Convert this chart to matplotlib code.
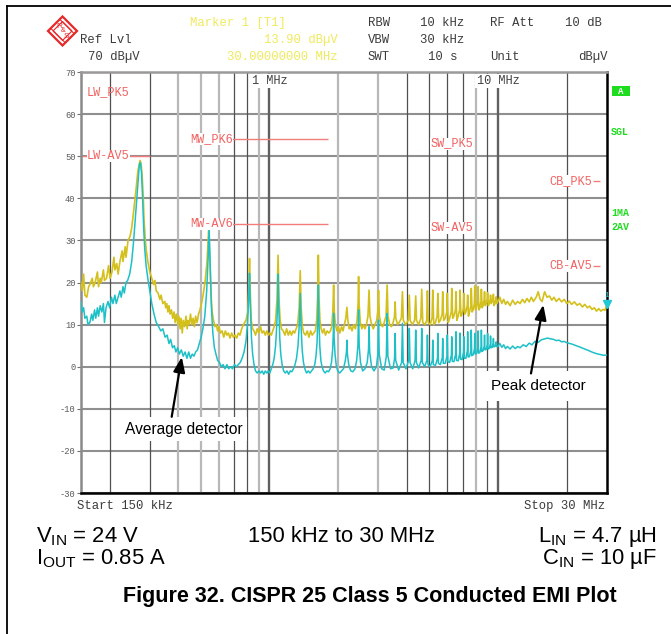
import matplotlib
matplotlib.use("Agg")
import matplotlib.pyplot as plt
from matplotlib import transforms
from matplotlib.patches import Polygon, Rectangle
from matplotlib.lines import Line2D
from matplotlib.ticker import NullLocator

plt.rcParams['font.family'] = ['Liberation Sans', 'DejaVu Sans']
plt.rcParams['mathtext.fontset'] = 'custom'
plt.rcParams['mathtext.rm'] = 'Liberation Sans'
plt.rcParams['mathtext.it'] = 'Liberation Sans:italic'
plt.rcParams['mathtext.bf'] = 'Liberation Sans:bold'
MONO = ['Liberation Mono', 'DejaVu Sans Mono']

# ---------------- data (frequency in MHz, level in dBuV) ----------------
# peak detector trace (yellow)
pk_trace = [
    (0.150, 20.0), (0.152, 18), (0.154, 22), (0.156, 17), (0.159, 16.5), (0.162, 19), (0.164, 19.5),
    (0.168, 21), (0.170, 19), (0.173, 20), (0.177, 22.5), (0.179, 19), (0.182, 21), (0.184, 20),
    (0.188, 23), (0.190, 20.5), (0.194, 21), (0.198, 24), (0.201, 21), (0.205, 22.5), (0.209, 26),
    (0.211, 23), (0.215, 24.5), (0.218, 22), (0.222, 25), (0.227, 27.5), (0.229, 25), (0.234, 28.5),
    (0.236, 26), (0.241, 30), (0.246, 31), (0.250, 33), (0.255, 37), (0.261, 42), (0.266, 46.5),
    (0.272, 49), (0.275, 48), (0.278, 45), (0.281, 40), (0.283, 35), (0.286, 31), (0.289, 28),
    (0.294, 25), (0.300, 22.5), (0.306, 21), (0.312, 19.5), (0.316, 20.5), (0.320, 18), (0.326, 17.5),
    (0.332, 16), (0.336, 17), (0.342, 15), (0.349, 15.5), (0.352, 14), (0.356, 15), (0.360, 13),
    (0.364, 14.5), (0.368, 12.5), (0.373, 13.5), (0.378, 11.5), (0.383, 13), (0.387, 10.5),
    (0.392, 12.5), (0.398, 10), (0.402, 12), (0.407, 9), (0.411, 11.5), (0.416, 8), (0.420, 11),
    (0.426, 9.5), (0.432, 12), (0.437, 9), (0.441, 11), (0.446, 10), (0.452, 12.5), (0.458, 10),
    (0.464, 11.5), (0.470, 9.5), (0.476, 12), (0.483, 10.5), (0.490, 12.5), (0.497, 13.5),
    (0.505, 15), (0.513, 17), (0.523, 20), (0.534, 25), (0.543, 33), (0.550, 25), (0.556, 17),
    (0.562, 13), (0.570, 11), (0.578, 9.5), (0.586, 10), (0.594, 8.5), (0.602, 9.5), (0.611, 8),
    (0.621, 8.5), (0.632, 7), (0.642, 8.5), (0.652, 7.5), (0.662, 8), (0.673, 6.8), (0.684, 8),
    (0.696, 7), (0.708, 7.5), (0.720, 6.8), (0.732, 8), (0.744, 7.5), (0.757, 9), (0.770, 10),
    (0.790, 11), (0.805, 13), (0.812, 18), (0.819, 25.7), (0.826, 17), (0.834, 11), (0.845, 9),
    (0.857, 8.5), (0.870, 7.5), (0.885, 9), (0.900, 8), (0.915, 9.5), (0.930, 8), (0.945, 8.5),
    (0.960, 7.5), (0.975, 8.5), (0.990, 7.5), (1.005, 8), (1.020, 7.5), (1.035, 8.5), (1.050, 9.5),
    (1.065, 11), (1.080, 16), (1.092, 26.5), (1.102, 16), (1.115, 11), (1.130, 9), (1.150, 8.5),
    (1.170, 7.5), (1.190, 9), (1.210, 7.5), (1.230, 8.5), (1.250, 7.5), (1.270, 8.5), (1.290, 8),
    (1.310, 9), (1.330, 10), (1.350, 14), (1.365, 22.8), (1.378, 14), (1.395, 9.5), (1.415, 8),
    (1.440, 7.5), (1.465, 8.5), (1.490, 7), (1.515, 8.5), (1.540, 7.5), (1.565, 8), (1.590, 8.5),
    (1.610, 11), (1.625, 16), (1.638, 26.5), (1.650, 16), (1.665, 11), (1.685, 9), (1.710, 8),
    (1.735, 9), (1.760, 7.5), (1.790, 8.5), (1.820, 8), (1.850, 8.5), (1.875, 9.5), (1.895, 13),
    (1.911, 19.4), (1.925, 13), (1.945, 10), (1.975, 8.5), (2.005, 9.5), (2.035, 8), (2.070, 9.5),
    (2.100, 8.5), (2.130, 10), (2.160, 11.5), (2.184, 14.1), (2.205, 11), (2.235, 9), (2.270, 9.5),
    (2.300, 8.5), (2.340, 10), (2.380, 9), (2.420, 11), (2.445, 15), (2.457, 21.4), (2.470, 15),
    (2.500, 10.5), (2.540, 9), (2.580, 10), (2.620, 9), (2.660, 10), (2.700, 12), (2.730, 18.2),
    (2.755, 12), (2.800, 10), (2.850, 9), (2.900, 10), (2.950, 11), (2.980, 13), (3.003, 18.1),
    (3.030, 12), (3.080, 10), (3.130, 9.5), (3.180, 10.5), (3.240, 12), (3.276, 19.4), (3.305, 12),
    (3.360, 10), (3.420, 9.5), (3.480, 10.5), (3.530, 12), (3.549, 15.4), (3.575, 11.5), (3.640, 10),
    (3.700, 10.5), (3.780, 11.5), (3.822, 17.8), (3.855, 11), (3.950, 10), (4.050, 11), (4.095, 17.0),
    (4.130, 11), (4.220, 10), (4.320, 11), (4.368, 16.8), (4.405, 11), (4.500, 10), (4.600, 11.5),
    (4.641, 18.4), (4.690, 10.5), (4.800, 10), (4.880, 11), (4.914, 18.0), (4.960, 10.5), (5.050, 10),
    (5.150, 11.5), (5.187, 18.2), (5.240, 10), (5.330, 10.5), (5.420, 12), (5.460, 17.4), (5.510, 10.5),
    (5.600, 11), (5.700, 12.5), (5.733, 17.8), (5.790, 11), (5.880, 11.5), (5.975, 13), (6.006, 17.4),
    (6.060, 10.5), (6.150, 11.5), (6.250, 13), (6.279, 18.6), (6.340, 11.5), (6.420, 12), (6.520, 13.5),
    (6.552, 17.8), (6.610, 11), (6.700, 12), (6.800, 13.5), (6.825, 18.2), (6.890, 12), (6.970, 12.5),
    (7.070, 14), (7.098, 17.4), (7.160, 12.5), (7.240, 13), (7.340, 14.5), (7.371, 17.0), (7.430, 12),
    (7.510, 13), (7.610, 14.5), (7.644, 18.6), (7.710, 13), (7.790, 13.5), (7.890, 15), (7.917, 19.2),
    (7.980, 13.5), (8.060, 14), (8.160, 15.5), (8.190, 19.0), (8.260, 13.5), (8.340, 14), (8.430, 15.5),
    (8.463, 18.4), (8.530, 14), (8.610, 14.5), (8.705, 16), (8.736, 17.8), (8.800, 14.5), (8.880, 15),
    (8.980, 16), (9.009, 17.6), (9.080, 14.5), (9.160, 15), (9.250, 16), (9.282, 17.0), (9.350, 15),
    (9.440, 15.5), (9.525, 16.5), (9.555, 17.2), (9.620, 14.5), (9.710, 15), (9.800, 16), (9.828, 16.6),
    (9.900, 15), (10.0, 15.5), (10.2, 16.5), (10.4, 15), (10.6, 16), (10.8, 14.8), (11.0, 15.5),
    (11.3, 14.5), (11.6, 15.8), (11.9, 14.8), (12.2, 15.5), (12.5, 15), (12.8, 16), (13.1, 15.2),
    (13.4, 16.2), (13.7, 15.4), (14.0, 16.5), (14.3, 15.5), (14.7, 16.5), (15.0, 17.8), (15.3, 16),
    (15.6, 15.5), (16.0, 17.8), (16.4, 16.5), (16.8, 16.8), (17.2, 15.8), (17.6, 16.5), (18.0, 15.5),
    (18.5, 16.2), (19.0, 15.4), (19.5, 16), (20.0, 15), (20.5, 15.6), (21.0, 14.8), (21.6, 15.4),
    (22.2, 14.6), (22.8, 15), (23.4, 14.2), (24.0, 14.8), (24.6, 14), (25.2, 14.4), (25.8, 13.6),
    (26.4, 14), (27.0, 13.2), (27.6, 13.8), (28.2, 13.2), (28.8, 13.6), (29.4, 13.4), (30.0, 15.0),
]

# average detector trace (cyan)
av_trace = [
    (0.150, 15.4), (0.152, 13), (0.154, 14), (0.156, 11.5), (0.159, 12), (0.161, 10), (0.164, 10.5),
    (0.167, 12.5), (0.169, 11), (0.172, 13.5), (0.174, 11.5), (0.177, 14), (0.179, 12), (0.182, 14.5),
    (0.185, 13), (0.188, 15), (0.190, 10.5), (0.193, 14), (0.197, 15.5), (0.200, 14), (0.204, 16.5),
    (0.207, 15), (0.211, 17), (0.214, 15), (0.218, 16.5), (0.222, 18), (0.225, 16.5), (0.229, 19),
    (0.232, 17.5), (0.236, 20), (0.240, 20.5), (0.245, 22), (0.250, 25), (0.255, 30), (0.260, 36),
    (0.265, 42), (0.270, 48), (0.273, 48.5), (0.276, 46), (0.279, 40), (0.282, 33), (0.285, 28),
    (0.289, 24), (0.294, 21), (0.300, 18), (0.306, 15), (0.313, 12.5), (0.320, 10.5), (0.328, 9.5),
    (0.335, 8.5), (0.342, 9), (0.350, 7), (0.357, 7.5), (0.364, 5.5), (0.370, 6.5), (0.377, 4.5),
    (0.384, 5), (0.390, 3.5), (0.397, 4.5), (0.404, 3), (0.412, 4), (0.420, 2.5), (0.428, 3.5),
    (0.436, 2), (0.444, 3.5), (0.452, 2), (0.460, 3), (0.468, 2.5), (0.476, 3.5), (0.485, 4),
    (0.494, 5.5), (0.503, 7), (0.512, 9), (0.522, 12), (0.532, 18), (0.540, 26), (0.545, 33),
    (0.551, 24), (0.558, 14), (0.566, 8), (0.575, 4.5), (0.584, 3), (0.594, 1.5), (0.605, 1),
    (0.616, 0), (0.628, 0.5), (0.640, -0.5), (0.652, 0.5), (0.664, -0.5), (0.676, 0), (0.690, -0.5),
    (0.704, 0.5), (0.718, 0), (0.732, 0.5), (0.746, 1), (0.760, 2), (0.775, 3.5), (0.790, 6),
    (0.802, 10), (0.812, 16), (0.819, 22.2), (0.826, 14), (0.835, 7), (0.845, 3), (0.857, 0.5),
    (0.870, -1), (0.885, -1.5), (0.900, -1), (0.915, -1.5), (0.930, -1), (0.945, -1.8), (0.960, -1),
    (0.975, -1.5), (0.990, -1), (1.005, -1.5), (1.020, -0.5), (1.035, 0.5), (1.050, 2), (1.065, 5),
    (1.078, 10), (1.088, 16), (1.092, 22), (1.100, 14), (1.110, 7), (1.122, 3), (1.137, 0.5),
    (1.155, -1), (1.175, -1.5), (1.195, -1), (1.215, -1.8), (1.235, -1), (1.255, -1.2), (1.275, -0.5),
    (1.295, 0.5), (1.315, 2), (1.335, 5), (1.352, 10), (1.365, 17.4), (1.378, 9), (1.392, 4),
    (1.410, 1), (1.430, -0.5), (1.455, -1.5), (1.480, -1), (1.505, -1.5), (1.530, -1), (1.555, -0.5),
    (1.580, 0.5), (1.600, 2.5), (1.618, 6), (1.630, 12), (1.638, 19.4), (1.648, 11), (1.662, 5),
    (1.680, 1.5), (1.700, 0), (1.725, -1), (1.755, -1.5), (1.785, -1), (1.815, -1.2), (1.845, -0.5),
    (1.870, 1), (1.892, 4), (1.905, 8), (1.911, 12.7), (1.920, 7), (1.938, 3), (1.960, 0.5),
    (1.990, -1), (2.030, -1.5), (2.070, -1), (2.110, -0.5), (2.150, 1.5), (2.175, 3.5), (2.184, 6.3),
    (2.195, 3), (2.225, 0.5), (2.270, -1), (2.320, -1.2), (2.370, -0.5), (2.410, 1.5), (2.440, 5),
    (2.457, 13.5), (2.472, 5), (2.505, 1), (2.560, -1), (2.620, -0.5), (2.680, 1), (2.715, 4),
    (2.730, 9.5), (2.748, 3.5), (2.800, 0), (2.870, -1), (2.940, 0), (2.985, 3), (3.003, 11.1),
    (3.025, 3), (3.100, -0.5), (3.180, -0.8), (3.250, 2.5), (3.276, 12.7), (3.300, 2.5), (3.390, -0.5),
    (3.480, -0.3), (3.530, 2), (3.549, 7.9), (3.570, 1.5), (3.680, -0.8), (3.790, 1), (3.822, 10.3),
    (3.850, 1), (3.960, -0.5), (4.070, 1.5), (4.095, 9.1), (4.125, 1), (4.240, -0.5), (4.340, 1.5),
    (4.368, 8.7), (4.400, 1), (4.500, -0.3), (4.615, 1.5), (4.641, 9.1), (4.670, 1), (4.780, 0),
    (4.890, 1.5), (4.914, 7.5), (4.945, 0.5), (5.050, 0), (5.165, 1.5), (5.187, 6.3), (5.215, 0.5),
    (5.330, 0.3), (5.440, 2), (5.460, 7.9), (5.490, 0.8), (5.600, 0.5), (5.710, 2.2), (5.733, 6.7),
    (5.765, 0.8), (5.880, 0.8), (5.985, 2.5), (6.006, 7.5), (6.040, 1.2), (6.150, 1), (6.258, 2.8),
    (6.279, 7.1), (6.310, 1.3), (6.420, 1.2), (6.530, 3), (6.552, 8.3), (6.585, 1.5), (6.700, 1.4),
    (6.805, 3.2), (6.825, 8.0), (6.860, 1.8), (6.970, 1.7), (7.078, 3.5), (7.098, 7.1), (7.130, 2),
    (7.240, 2), (7.351, 3.8), (7.371, 8.3), (7.405, 2.3), (7.510, 2.4), (7.624, 4), (7.644, 8.7),
    (7.680, 2.6), (7.790, 2.8), (7.897, 4.3), (7.917, 7.9), (7.950, 3), (8.060, 3.1), (8.170, 4.6),
    (8.190, 8.5), (8.225, 3.2), (8.340, 3.4), (8.443, 4.8), (8.463, 8.7), (8.500, 3.6), (8.610, 3.8),
    (8.716, 5), (8.736, 7.5), (8.770, 4), (8.880, 4.1), (8.989, 5.2), (9.009, 7.9), (9.045, 4.2),
    (9.160, 4.3), (9.262, 5.4), (9.282, 7.3), (9.320, 4.5), (9.440, 4.6), (9.535, 5.6), (9.555, 6.7),
    (9.590, 4.7), (9.710, 4.8), (9.808, 5.6), (9.828, 5.9), (9.870, 4.8), (10.0, 4.8), (10.2, 5.5),
    (10.4, 4.6), (10.6, 5.2), (10.8, 4.3), (11.0, 4.8), (11.3, 4.2), (11.6, 4.9), (11.9, 4.3),
    (12.2, 4.8), (12.5, 4.5), (12.9, 5.2), (13.3, 4.8), (13.7, 5.6), (14.1, 5.2), (14.5, 6.0),
    (15.0, 5.8), (15.5, 6.4), (16.0, 6.6), (16.5, 6.8), (17.0, 6.6), (17.5, 6.5), (18.0, 6.2),
    (18.5, 6.3), (19.0, 5.9), (19.5, 6.0), (20.0, 5.7), (21.0, 5.4), (22.0, 5.0), (23.0, 4.6),
    (24.0, 4.2), (25.0, 3.8), (26.0, 3.4), (27.0, 3.1), (28.0, 2.9), (29.0, 2.7), (30.0, 2.8),
]

# CISPR 25 class 5 limit lines
limit_start_mhz = [0.15, 0.53, 5.9, 26.0]
limit_stop_mhz = [0.30, 1.8, 6.2, 28.0]
limit_pk_dbuv = [70, 54, 53, 44]
limit_av_dbuv = [50, 34, 33, 24]
limit_pk_labels = ['LW_PK5', 'MW_PK6', 'SW_PK5', 'CB_PK5']
limit_av_labels = ['LW-AV5', 'MW-AV6', 'SW-AV5', 'CB-AV5']

y_ticks = [-30, -20, -10, 0, 10, 20, 30, 40, 50, 60, 70]
y_tick_labels = ['-30', '-20', '-10', '0', '10', '20', '30', '40', '50', '60', '70']

grid_dark_mhz = [0.2, 0.3, 0.7, 0.8, 4, 5, 6, 7, 9, 20]
grid_light_mhz = [0.4, 0.5, 0.6, 0.9, 2, 3, 8]
grid_decade_mhz = [1, 10]
decade_labels = ['1 MHz', '10 MHz']

marker_mhz = 30.0
marker_dbuv = 13.90

# ---------------- figure ----------------
W, H = 671, 634
fig = plt.figure(figsize=(W / 100, H / 100), dpi=100)
fig.patch.set_facecolor('white')


def fx(x):
    return x / W


def fy(y):
    return 1 - y / H


ax = fig.add_axes([fx(81), fy(493), 526 / W, 421 / H])
ax.set_xscale('log')
ax.set_xlim(0.15, 30)
ax.set_ylim(-30, 70)
ax.xaxis.set_major_locator(NullLocator())
ax.xaxis.set_minor_locator(NullLocator())
ax.set_yticks(y_ticks)
ax.set_yticklabels(y_tick_labels)
for lbl in ax.get_yticklabels():
    lbl.set_fontfamily(MONO)
ax.tick_params(axis='y', length=3, width=0.8, color='#707070', labelsize=6.3,
               labelcolor='#5a5a5a', pad=1)
ax.grid(axis='y', color='#8f8f8f', lw=1.5, zorder=1)
ax.set_axisbelow(True)

for f in grid_light_mhz:
    ax.axvline(f, color='#b8b8b8', lw=1.6, zorder=1)
for f in grid_dark_mhz:
    ax.axvline(f, color='#505050', lw=0.9, zorder=1)
for f in grid_decade_mhz:
    ax.axvline(f, color='#606060', lw=1.7, zorder=1)

for side, col in (('top', '#9a9a9a'), ('left', '#8a8a8a'),
                  ('bottom', '#000000'), ('right', '#000000')):
    ax.spines[side].set_color(col)
    ax.spines[side].set_linewidth(1.8)

# limit lines and their labels
lim_col = '#f27c7c'
lab_col = '#f26262'
label_anchor_mhz = [0.159, 0.45, 5.05, 25.9]
label_ha = ['left', 'left', 'left', 'right']
for i in range(len(limit_start_mhz)):
    ax.hlines([limit_pk_dbuv[i], limit_av_dbuv[i]], limit_start_mhz[i], limit_stop_mhz[i],
              color=lim_col, lw=1.0, zorder=2)
    bb = dict(boxstyle='square,pad=0', fc='white', ec='none')
    if i == 0:
        ax.annotate(limit_pk_labels[i], (label_anchor_mhz[i], limit_pk_dbuv[i]),
                    xytext=(0, -14.4), textcoords='offset points', ha=label_ha[i], va='center',
                    fontfamily=MONO, fontsize=8.6, color=lab_col, zorder=5)
    else:
        ax.text(label_anchor_mhz[i], limit_pk_dbuv[i], limit_pk_labels[i], ha=label_ha[i],
                va='center', fontfamily=MONO, fontsize=8.6, color=lab_col, zorder=5, bbox=bb)
    ax.text(label_anchor_mhz[i], limit_av_dbuv[i], limit_av_labels[i], ha=label_ha[i],
            va='center', fontfamily=MONO, fontsize=8.6, color=lab_col, zorder=5, bbox=bb)

# traces
pk_f, pk_v = zip(*pk_trace)
av_f, av_v = zip(*av_trace)
ax.plot(pk_f, pk_v, color='#d4c01c', lw=1.2, zorder=3)
ax.plot(av_f, av_v, color='#1ec0c8', lw=1.1, zorder=4)

# marker 1
mk_tr = transforms.offset_copy(ax.transData, fig=fig, x=0, y=3, units='points')
ax.plot([marker_mhz], [marker_dbuv], marker='v', color='#22c8d8', ms=5.5, clip_on=False,
        transform=mk_tr, zorder=6)
ax.annotate('1', (marker_mhz, marker_dbuv), xytext=(0, 9), textcoords='offset points',
            ha='center', va='center', fontfamily=MONO, fontsize=5.5, color='#22c8d8',
            annotation_clip=False)

# decade labels at top of the grid
blend = transforms.blended_transform_factory(ax.transData, ax.transAxes)
for f, t in zip(grid_decade_mhz, decade_labels):
    ax.text(f, 0.979, t, transform=blend, ha='center', va='center', fontfamily=MONO,
            fontsize=8.6, color='#404040', zorder=5,
            bbox=dict(boxstyle='square,pad=0.1', fc='white', ec='none'))

# detector annotations
arrow = dict(arrowstyle='-|>,head_length=0.9,head_width=0.35', color='black', lw=1.6,
             shrinkA=0, shrinkB=0)
ax.text(0.423, -14.8, 'Average detector', ha='center', va='center', fontsize=11.2,
        zorder=6, bbox=dict(boxstyle='square,pad=0.3', fc='white', ec='none'))
ax.annotate('', xy=(0.414, 2.3), xytext=(0.374, -11.9), arrowprops=arrow, zorder=7)
ax.text(15.1, -4.6, 'Peak detector', ha='center', va='center', fontsize=11.1,
        zorder=6, bbox=dict(boxstyle='square,pad=0.5', fc='white', ec='none'))
ax.annotate('', xy=(15.8, 14.7), xytext=(13.95, -1.6), arrowprops=arrow, zorder=7)

# ---------------- header text ----------------
GRAY = '#3c3c3c'
YEL = '#f0ea5c'
hdr = [
    ('Marker 1 [T1]', 190, 23, 'left', YEL),
    ('RBW', 368, 23, 'left', GRAY), ('10 kHz', 420, 23, 'left', GRAY),
    ('RF Att', 490, 23, 'left', GRAY), ('10 dB', 565, 23, 'left', GRAY),
    ('Ref Lvl', 80, 40, 'left', GRAY), ('13.90 dBµV', 338, 40, 'right', YEL),
    ('VBW', 368, 40, 'left', GRAY), ('30 kHz', 420, 40, 'left', GRAY),
    ('70 dBµV', 88, 57, 'left', GRAY), ('30.00000000 MHz', 338, 57, 'right', YEL),
    ('SWT', 368, 57, 'left', GRAY), ('10 s', 428, 57, 'left', GRAY),
    ('Unit', 490, 57, 'left', GRAY), ('dBµV', 608, 57, 'right', GRAY),
    ('Start 150 kHz', 77, 506, 'left', GRAY), ('Stop 30 MHz', 524, 506, 'left', GRAY),
]
for t, x, y, ha, c in hdr:
    fig.text(fx(x), fy(y), t, ha=ha, va='center', fontfamily=MONO, fontsize=8.8, color=c)

# right side status labels
GREEN = '#1edc1e'
fig.patches.append(Rectangle((fx(612), fy(96)), 18 / W, 10 / H, transform=fig.transFigure,
                             fc=GREEN, ec='none'))
fig.text(fx(621), fy(91), 'A', ha='center', va='center', fontfamily=MONO, fontsize=6.5,
         color='white', fontweight='bold')
for t, y in (('SGL', 132), ('1MA', 213), ('2AV', 227)):
    fig.text(fx(611), fy(y), t, ha='left', va='center', fontfamily=MONO, fontsize=7.2,
             color=GREEN, fontweight='bold')

# R&S logo
RED = '#e62828'
cx, cy, r = 62.5, 31, 14.5
fig.patches.append(Polygon([(fx(cx - r), fy(cy)), (fx(cx), fy(cy - r)), (fx(cx + r), fy(cy)),
                            (fx(cx), fy(cy + r))], closed=True, transform=fig.transFigure,
                           fc='white', ec=RED, lw=1.6))
ri = 9.5
fig.patches.append(Polygon([(fx(cx - ri), fy(cy)), (fx(cx), fy(cy - ri)), (fx(cx + ri), fy(cy)),
                            (fx(cx), fy(cy + ri))], closed=True, transform=fig.transFigure,
                           fc='none', ec=RED, lw=0.8))
for d in (-4.5, 4.5):
    fig.lines.append(Line2D([fx(cx - 7 + d), fx(cx + 7 + d)], [fy(cy - 7 - d), fy(cy + 7 - d)],
                            transform=fig.transFigure, color=RED, lw=0.8))
fig.text(fx(cx - 3.5), fy(cy - 5), 'R', ha='center', va='center', fontsize=6, color=RED)
fig.text(fx(cx + 0.5), fy(cy), '&', ha='center', va='center', fontsize=5, color=RED)
fig.text(fx(cx + 4), fy(cy + 5), 'S', ha='center', va='center', fontsize=6, color=RED)

# outer frame
fig.lines.append(Line2D([fx(7), fx(671)], [fy(6), fy(6)], transform=fig.transFigure,
                        color='black', lw=1.3))
fig.lines.append(Line2D([fx(7), fx(7)], [fy(6), fy(634)], transform=fig.transFigure,
                        color='black', lw=1.3))

# ---------------- caption text ----------------
fs = 15.8
fig.text(fx(36), fy(542), r'V$_{\mathrm{IN}}$ = 24 V', ha='left', va='baseline', fontsize=fs)
fig.text(fx(36), fy(564), r'I$_{\mathrm{OUT}}$ = 0.85 A', ha='left', va='baseline', fontsize=fs)
fig.text(fx(342), fy(542), '150 kHz to 30 MHz', ha='center', va='baseline', fontsize=fs)
fig.text(fx(657), fy(542), r'L$_{\mathrm{IN}}$ = 4.7 µH', ha='right', va='baseline', fontsize=fs)
fig.text(fx(657), fy(564), r'C$_{\mathrm{IN}}$ = 10 µF', ha='right', va='baseline', fontsize=fs)
fig.text(fx(370), fy(602), 'Figure 32. CISPR 25 Class 5 Conducted EMI Plot', ha='center',
         va='baseline', fontsize=15.5, fontweight='bold')

fig.savefig('out.png', dpi=100)
